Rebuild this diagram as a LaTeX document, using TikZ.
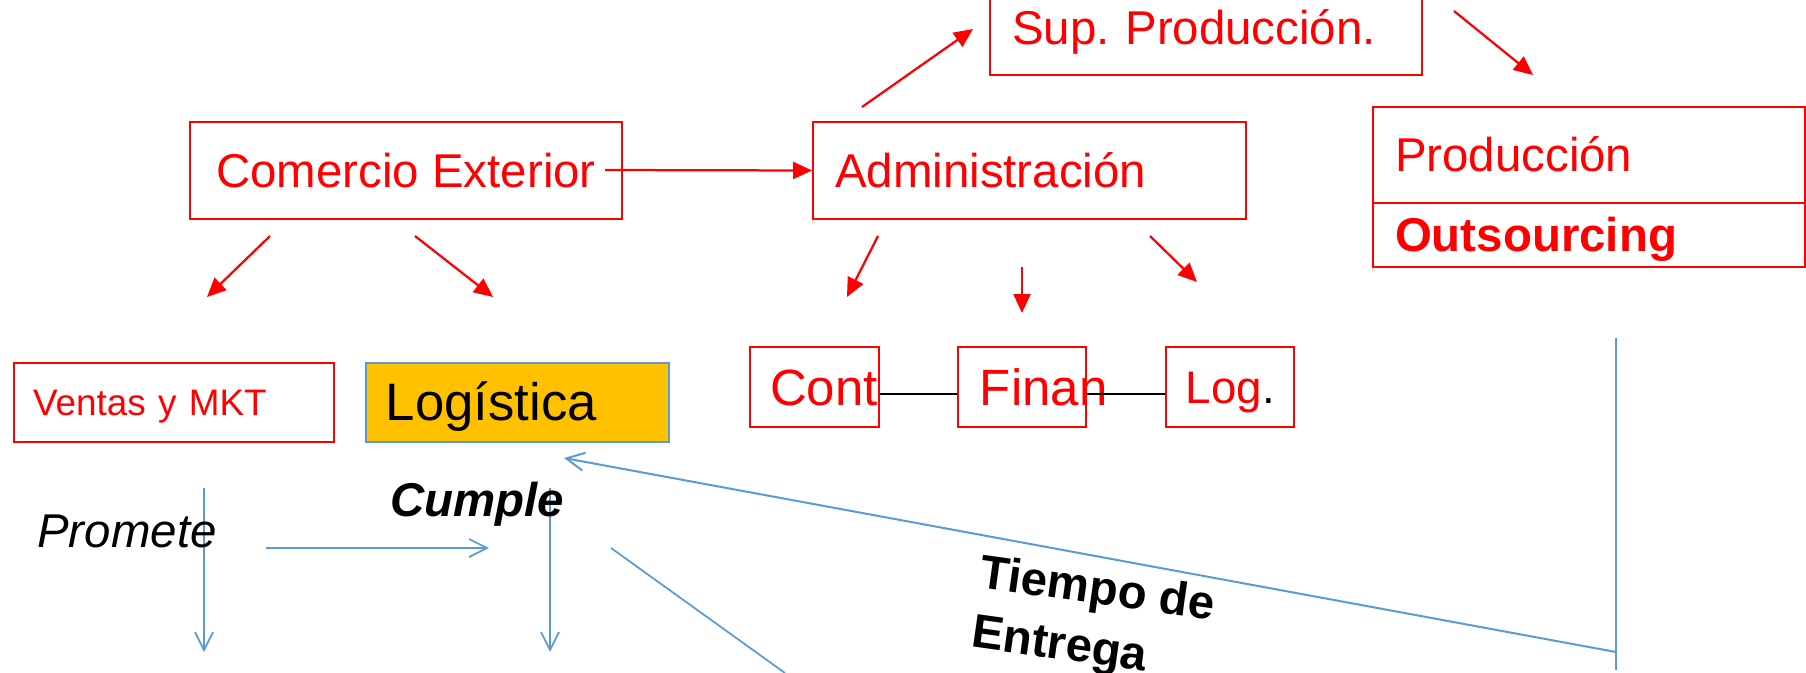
\documentclass[tikz,border=0pt]{standalone}
\usepackage{fontspec}
\setmainfont{Liberation Sans}
\usepackage{xcolor}
\usepackage{tikz}
\usetikzlibrary{arrows.meta,positioning}
\frenchspacing
\definecolor{rojo}{RGB}{255,0,0}
\definecolor{azul}{RGB}{91,155,213}
\definecolor{naranja}{RGB}{255,192,0}
\newcommand{\letra}{\fontsize{27}{34}\selectfont}
\tikzstyle{caja} = [rectangle, draw=rojo, line width=0.04cm, text=rojo, font=\letra,
    text height=19pt, text depth=0pt, inner ysep=0pt, align=left]
\tikzstyle{flecha} = [draw=rojo, line width=0.045cm, -{Triangle[length=0.38cm,width=0.34cm]}]
\tikzstyle{linea} = [draw=azul, line width=0.035cm]
\tikzstyle{azulflecha} = [linea, -{Straight Barb[length=0.36cm,width=0.36cm]}]

\begin{document}
\begin{tikzpicture}[x=0.02cm,y=-0.02cm,node distance=1cm,auto]
    \useasboundingbox (0,0) rectangle (1806,673);
      \node [caja, minimum width=8.64cm, minimum height=1.94cm] at (406,170.5) (comercio) {Comercio Exterior};
      \node [caja, inner xsep=0.44cm, text width=7.78cm, minimum height=1.94cm] at (1029.5,170.5) (admin) {Administración};
      \node [caja, inner xsep=0.44cm, text width=7.76cm, minimum height=1.88cm] at (1206,28) (sup) {Sup. Producción.};
      \node [caja, inner xsep=0.44cm, text width=7.76cm, minimum height=1.92cm] at (1589,155) (prod) {Producción};
      \node [caja, below of=prod, node distance=1.6cm, inner xsep=0.44cm, text width=7.76cm,
          minimum height=1.28cm, font=\letra\bfseries] (outs) {Outsourcing};

      \node [caja, inner xsep=0.38cm, text width=5.64cm, minimum height=1.58cm, text height=15pt,
          font=\fontsize{21}{25}\selectfont] at (174,402.5) (ventas) {Ventas y MKT};
      \node [caja, right of=ventas, node distance=6.87cm, draw=azul, fill=naranja, text=black,
          inner xsep=0.4cm, text width=5.26cm, minimum height=1.58cm, text height=21pt,
          font=\fontsize{30}{36}\selectfont] (logist) {Logística};

      \node [caja, inner xsep=0.4cm, text width=1.78cm, minimum height=1.6cm, text height=21pt,
          font=\fontsize{29}{34}\selectfont] at (814.5,387) (cont) {Cont};
      \node [caja, right of=cont, node distance=4.15cm, inner xsep=0.44cm, text width=1.68cm,
          minimum height=1.6cm, text height=21pt, font=\fontsize{29}{34}\selectfont] (finan) {Finan};
      \node [caja, right of=finan, node distance=4.16cm, inner xsep=0.4cm, text width=1.76cm,
          minimum height=1.6cm, text height=19pt, font=\fontsize{26}{31}\selectfont] (log) {Log\textcolor{black}{.}};

      \draw [black, line width=0.03cm] ([yshift=-0.14cm]cont.east) -- ([yshift=-0.14cm]finan.west);
      \draw [black, line width=0.03cm] ([yshift=-0.14cm]finan.east) -- ([yshift=-0.14cm]log.west);

      % flechas rojas
      \coordinate (ce) at (605,170);
      \coordinate (c1a) at (270,236); \coordinate (c1b) at (207,297);
      \coordinate (c2a) at (415,236); \coordinate (c2b) at (493,297);
      \coordinate (a1a) at (878,236); \coordinate (a1b) at (847,297);
      \coordinate (a2a) at (1022,267); \coordinate (a2b) at (1022,313);
      \coordinate (a3a) at (1150,236); \coordinate (a3b) at (1197,282);
      \coordinate (s1a) at (862,107); \coordinate (s1b) at (973,29);
      \coordinate (s2a) at (1454,11); \coordinate (s2b) at (1533,75);
      \path [flecha] (ce) -- (admin.west);
      \path [flecha] (c1a) -- (c1b);
      \path [flecha] (c2a) -- (c2b);
      \path [flecha] (a1a) -- (a1b);
      \path [flecha] (a2a) -- (a2b);
      \path [flecha] (a3a) -- (a3b);
      \path [flecha] (s1a) -- (s1b);
      \path [flecha] (s2a) -- (s2b);

      % lineas azules
      \coordinate (p1) at (204,488); \coordinate (p2) at (204,652);
      \coordinate (q1) at (550,488); \coordinate (q2) at (550,652);
      \coordinate (h1) at (266,548); \coordinate (h2) at (489,548);
      \coordinate (d1) at (611,548); \coordinate (d2) at (785,673);
      \coordinate (r1) at (1616,338); \coordinate (r2) at (1616,670);
      \coordinate (t1) at (1616,652); \coordinate (t2) at (564,458);
      \path [azulflecha] (p1) -- (p2);
      \path [azulflecha] (q1) -- (q2);
      \path [azulflecha] (h1) -- (h2);
      \path [linea] (d1) -- (d2);
      \path [linea] (r1) -- (r2);
      \path [azulflecha, line width=0.04cm] (t1) -- (t2);

      \node [anchor=base west, inner sep=0pt, font=\letra\itshape] at (37,547) (promete) {Promete};
      \node [anchor=base west, inner sep=0pt, font=\letra\bfseries\itshape] at (390,516) (cumple) {Cumple};
      \node [anchor=north west, inner sep=0pt, rotate=-8, align=left, font=\letra\bfseries]
          at (983,553) (tiempo) {Tiempo de\\Entrega};
\end{tikzpicture}
\end{document}
